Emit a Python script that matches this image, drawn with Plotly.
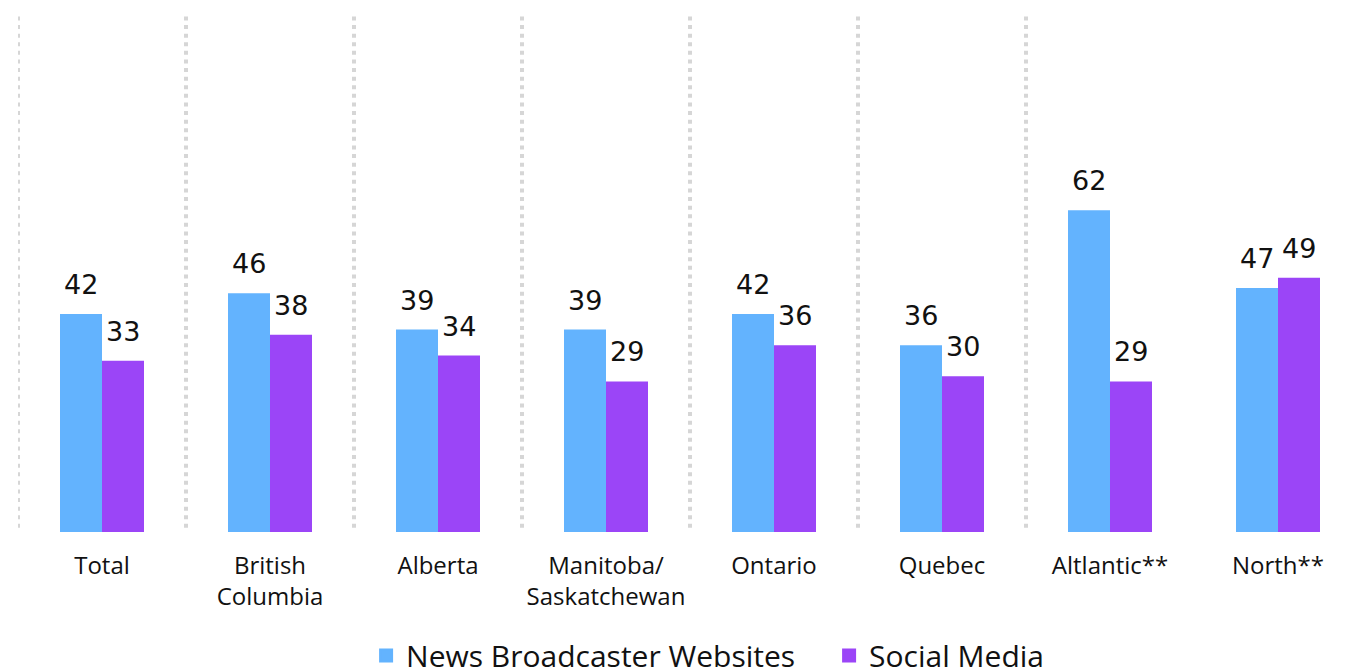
import plotly.graph_objects as go

categories = ["Total", "British<br>Columbia", "Alberta", "Manitoba/<br>Saskatchewan",
              "Ontario", "Quebec", "Altlantic**", "North**"]
news_sites = [42, 46, 39, 39, 42, 36, 62, 47]
social_media = [33, 38, 34, 29, 36, 30, 29, 49]

series = [
    ("News Broadcaster Websites", news_sites, "#63B3FE", -1, "a"),
    ("Social Media", social_media, "#9B45F7", 1, "b"),
]

xs = list(range(len(categories)))
fig = go.Figure()
for name, vals, color, side, grp in series:
    fig.add_trace(go.Bar(
        x=xs, y=vals, name=name, offsetgroup=grp, showlegend=False,
        marker=dict(color=color, line=dict(width=0)),
    ))
# legend entries (larger swatches)
for name, vals, color, side, grp in series:
    fig.add_trace(go.Bar(
        x=[None], y=[None], name=name, offsetgroup=grp, showlegend=True,
        marker=dict(color=color, line=dict(color=color, width=2)),
    ))

# value labels
for name, vals, color, side, grp in series:
    for i, v in enumerate(vals):
        fig.add_annotation(
            x=i, y=v, xref="x", yref="y", text=str(v), showarrow=False,
            xanchor="center", yanchor="bottom", xshift=side * 21, yshift=12,
            font=dict(family="DejaVu Sans", size=27, color="#111111"),
        )

# dotted separators at category boundaries
for i in range(len(categories) - 1):
    fig.add_shape(type="line", xref="x", yref="paper", x0=i - 0.5, x1=i - 0.5,
                  y0=0.008, y1=1.0,
                  line=dict(color="#d6d6d6", width=4, dash="4px,4.6px"))

fig.update_layout(
    width=1360, height=672,
    margin=dict(l=10, r=6, t=5, b=148, autoexpand=False),
    paper_bgcolor="white", plot_bgcolor="white",
    barmode="group", bargap=0.5, bargroupgap=0,
    showlegend=True,
    legend=dict(orientation="h", xanchor="left", x=0.259, yanchor="middle", y=-0.238,
                font=dict(family="Open Sans", size=30, color="#111111"),
                itemwidth=30, entrywidth=418, traceorder="normal"),
    font=dict(family="Open Sans", color="#111111"),
)
fig.update_xaxes(
    tickmode="array", tickvals=xs, ticktext=categories,
    range=[-0.5, 7.5], showgrid=False, zeroline=False, showline=False,
    ticks="outside", ticklen=12, tickcolor="rgba(0,0,0,0)",
    tickfont=dict(family="Open Sans", size=24, color="#111111"),
)
fig.update_yaxes(range=[0, 100], visible=False, showgrid=False, zeroline=False)

fig.write_html("out.html")
